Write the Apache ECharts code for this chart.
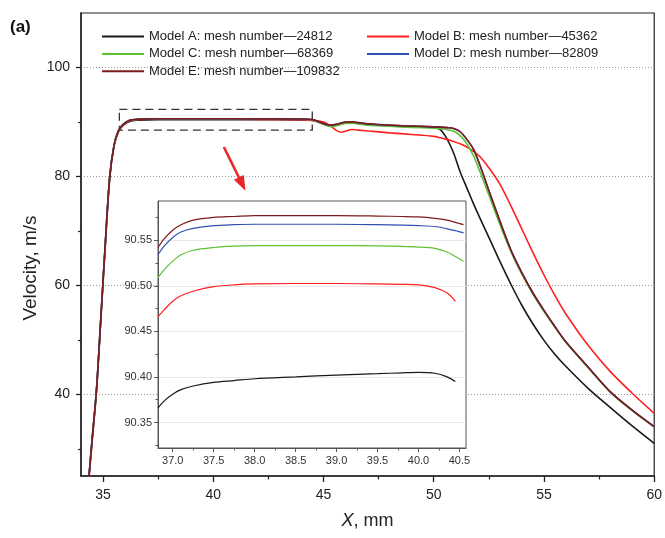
<!DOCTYPE html>
<html><head><meta charset="utf-8">
<script src="https://cdn.jsdelivr.net/npm/echarts@6/dist/echarts.min.js"></script>
<style>html,body{margin:0;padding:0;background:#fff}#c{width:665px;height:538px}</style>
</head><body><div id="c"></div>
<script>
// ---------- data ----------
const seriesNames = [
  'Model A: mesh number\u201424812',
  'Model B: mesh number\u201445362',
  'Model C: mesh number\u201468369',
  'Model D: mesh number\u201482809',
  'Model E: mesh number\u2014109832'
];
const seriesColors = ['#1a1a1a', '#ff1f1f', '#5cc133', '#2f4fb3', '#7e1c1c'];

const mainX = [34.3, 34.5, 34.7, 34.9, 35.1, 35.3, 35.5, 35.7, 35.9, 36.2, 36.6, 37, 38, 40, 42, 44,
  44.5, 45, 45.3, 45.6, 45.8, 46, 46.3, 46.6, 47, 48, 49,
  50, 50.3, 50.6, 50.9, 51.2, 51.5, 51.8, 52.1, 52.5, 53, 53.5, 54, 54.5, 55, 55.5, 56, 57, 58, 59, 60];

const mainA = [22, 31.5, 40.7, 54, 67.5, 79.8, 85.6, 88.2, 89.3, 90.1, 90.32, 90.38, 90.398, 90.405, 90.40, 90.38,
  90.3, 89.6, 89.35, 89.5, 89.7, 89.85, 89.9, 89.75, 89.55, 89.3, 89.15,
  89.0, 88.6, 86.9, 84.3, 80.8, 77.9, 75.0, 72.3, 68.8, 64.4, 60.2, 56.3, 52.9, 49.9, 47.3, 45.1, 41.1, 37.6, 34.2, 31.0];
const mainB = [21.5, 31, 40.3, 53.6, 67.1, 79.4, 85.6, 88.3, 89.45, 90.2, 90.42, 90.483, 90.502, 90.501, 90.48, 90.42,
  90.25, 90.0, 89.3, 88.4, 88.1, 88.3, 88.6, 88.5, 88.35, 88.0, 87.7,
  87.35, 87.1, 86.8, 86.4, 86.0, 85.4, 84.6, 83.6, 81.6, 78.6, 74.6, 70.3, 66.0, 61.9, 58.1, 54.7, 49.0, 44.2, 40.2, 36.5];
const mainC = [22, 31.5, 40.7, 54, 67.5, 79.8, 85.8, 88.4, 89.5, 90.28, 90.48, 90.527, 90.544, 90.5425, 90.54, 90.5,
  90.35, 89.6, 89.15, 89.3, 89.55, 89.7, 89.75, 89.6, 89.4, 89.2, 89.0,
  88.85, 88.75, 88.6, 88.3, 87.5, 86.0, 83.8, 80.8, 76.6, 71.2, 66.2, 62.0, 58.4, 55.2, 52.3, 49.5, 44.9, 40.4, 37.0, 34.0];
const mainD = [22, 31.5, 40.7, 54, 67.5, 79.8, 85.8, 88.4, 89.5, 90.3, 90.5, 90.553, 90.5675, 90.566, 90.56, 90.53,
  90.42, 89.7, 89.4, 89.55, 89.8, 89.95, 90.0, 89.85, 89.65, 89.4, 89.25,
  89.1, 89.05, 88.95, 88.8, 88.2, 86.8, 85.0, 82.0, 77.4, 71.8, 66.5, 62.3, 58.6, 55.4, 52.4, 49.6, 45.0, 40.5, 37.1, 34.05];
const mainE = [22, 31.5, 40.7, 54, 67.5, 79.8, 85.8, 88.4, 89.5, 90.31, 90.51, 90.561, 90.577, 90.5755, 90.57, 90.54,
  90.45, 89.72, 89.42, 89.56, 89.8, 89.96, 90.02, 89.87, 89.66, 89.41, 89.26,
  89.1, 89.05, 88.95, 88.8, 88.2, 86.8, 85.0, 82.0, 77.4, 71.8, 66.5, 62.3, 58.6, 55.4, 52.4, 49.6, 45.0, 40.5, 37.1, 34.05];

const insetX = [36.82, 36.9, 37.0, 37.1, 37.25, 37.5, 37.75, 38.0, 38.5, 39.0, 39.5, 39.8, 40.0, 40.2, 40.35, 40.45, 40.55];
const insetA = [90.366, 90.374, 90.381, 90.386, 90.390, 90.394, 90.396, 90.398, 90.400, 90.402, 90.4035, 90.4045, 90.405, 90.404, 90.400, 90.395, null];
const insetB = [90.466, 90.474, 90.483, 90.489, 90.494, 90.499, 90.501, 90.502, 90.5025, 90.5025, 90.502, 90.5015, 90.501, 90.498, 90.492, 90.483, null];
const insetC = [90.509, 90.518, 90.527, 90.534, 90.539, 90.542, 90.5435, 90.544, 90.544, 90.544, 90.5438, 90.5432, 90.5425, 90.541, 90.537, 90.532, 90.527];
const insetD = [90.534, 90.544, 90.553, 90.559, 90.563, 90.566, 90.567, 90.5675, 90.5675, 90.5675, 90.567, 90.5665, 90.566, 90.565, 90.5625, 90.5605, 90.558];
const insetE = [90.542, 90.552, 90.561, 90.567, 90.572, 90.575, 90.576, 90.577, 90.577, 90.577, 90.5765, 90.576, 90.5755, 90.574, 90.572, 90.5695, 90.567];

const mainXLabels = [35, 40, 45, 50, 55, 60];
const mainXMinor = [37.5, 42.5, 47.5, 52.5, 57.5];
const mainYLabels = [40, 60, 80, 100];
const mainYMinor = [30, 50, 70, 90];
const insetXLabels = [37.0, 37.5, 38.0, 38.5, 39.0, 39.5, 40.0, 40.5];
const insetXMinor = [37.25, 37.75, 38.25, 38.75, 39.25, 39.75, 40.25];
const insetYLabels = [90.35, 90.40, 90.45, 90.50, 90.55];
const insetYMinor = [90.325, 90.375, 90.425, 90.475, 90.525, 90.575];

const zoomBox = [[35.74, 92.3], [44.49, 88.5]];
const arrowLine = [[40.48, 85.4], [41.31, 78.6]];

// ---------- chart ----------
const FONT = '"Liberation Sans", Arial, Helvetica, sans-serif';
const pair = (xs, ys) => xs.map((x, i) => [x, ys[i]]).filter(p => p[1] != null);
const mainY = [mainA, mainB, mainC, mainD, mainE];
const insetY = [insetA, insetB, insetC, insetD, insetE];

const series = [];
seriesNames.forEach((n, i) => {
  const s = {
    name: n, type: 'line', xAxisIndex: 0, yAxisIndex: 0,
    data: pair(mainX, mainY[i]), symbol: 'none', showSymbol: false,
    smooth: 0.3, clip: true, z: 2 + i,
    lineStyle: { width: 1.6, color: seriesColors[i] },
    itemStyle: { color: seriesColors[i] },
    emphasis: { disabled: true }
  };
  if (i === 0) {
    s.markArea = {
      silent: true,
      itemStyle: { color: 'rgba(0,0,0,0)', borderColor: '#333', borderWidth: 1.3, borderType: [8, 5] },
      data: [[{ coord: zoomBox[0] }, { coord: zoomBox[1] }]]
    };
  }
  if (i === 4) {
    s.markLine = {
      silent: true, animation: false,
      symbol: ['none', 'triangle'], symbolSize: [11, 15],
      lineStyle: { color: '#e8262b', width: 2.6, type: 'solid' },
      label: { show: false },
      data: [[{ coord: arrowLine[0] }, { coord: arrowLine[1] }]]
    };
  }
  series.push(s);
});
seriesNames.forEach((n, i) => {
  series.push({
    name: n, type: 'line', xAxisIndex: 2, yAxisIndex: 2,
    data: pair(insetX, insetY[i]), symbol: 'none', showSymbol: false,
    smooth: 0.3, z: 10 + i,
    lineStyle: { width: 1.2, color: seriesColors[i] },
    itemStyle: { color: seriesColors[i] },
    emphasis: { disabled: true }
  });
});

const axisCommon = { axisLine: { show: false }, axisLabel: { show: false }, splitLine: { show: false } };
const legendCommon = {
  orient: 'vertical', top: 25, itemWidth: 42, itemHeight: 14, itemGap: 4.4, selectedMode: false,
  textStyle: { fontFamily: FONT, fontSize: 13, color: '#222' },
  lineStyle: { width: 2 },
  itemStyle: { opacity: 0, borderWidth: 0 }
};

const option = {
  animation: false,
  textStyle: { fontFamily: FONT },
  title: { text: '(a)', left: 5, top: 14, textStyle: { fontFamily: FONT, fontSize: 17, fontWeight: 'bold', color: '#111' } },
  legend: [
    Object.assign({ data: [seriesNames[0], seriesNames[2], seriesNames[4]], left: 96 }, legendCommon),
    Object.assign({ data: [seriesNames[1], seriesNames[3]], left: 361 }, legendCommon)
  ],
  graphic: [{
    type: 'text', x: 31, y: 268, rotation: Math.PI / 2,
    style: { text: 'Velocity, m/s', font: '19px ' + FONT, fill: '#222', align: 'center', verticalAlign: 'middle' }
  }],
  grid: [
    { left: 81, right: 7, top: 13, bottom: 62, show: true, borderColor: '#222', borderWidth: 1.2, backgroundColor: 'rgba(0,0,0,0)' },
    { left: 158, right: 199, top: 201, bottom: 90, show: true, borderColor: '#555', borderWidth: 1, backgroundColor: '#fff', z: 3 }
  ],
  xAxis: [
    { type: 'value', gridIndex: 0, min: 34, max: 60, position: 'bottom',
      name: '{i|X}, mm', nameLocation: 'middle', nameGap: 36,
      nameTextStyle: { fontSize: 18, color: '#222', rich: { i: { fontStyle: 'italic', fontSize: 18, color: '#222', fontFamily: FONT } } },
      axisLine: { lineStyle: { color: '#222', width: 1.5 } },
      axisTick: { customValues: mainXLabels, length: 6, lineStyle: { color: '#222', width: 1.3 } },
      axisLabel: { customValues: mainXLabels, fontSize: 14, color: '#222', margin: 12 },
      splitLine: { show: false } },
    Object.assign({ type: 'value', gridIndex: 0, min: 34, max: 60, position: 'bottom',
      axisTick: { customValues: mainXMinor, length: 3.5, lineStyle: { color: '#222', width: 1.2 } } }, axisCommon),
    { type: 'value', gridIndex: 1, min: 36.82, max: 40.58, position: 'bottom', z: 4,
      axisLine: { lineStyle: { color: '#555', width: 1 } },
      axisTick: { customValues: insetXLabels, length: 4, lineStyle: { color: '#555' } },
      axisLabel: { customValues: insetXLabels, fontSize: 11, color: '#333', margin: 7, formatter: v => v.toFixed(1) },
      splitLine: { show: false } },
    Object.assign({ type: 'value', gridIndex: 1, min: 36.82, max: 40.58, position: 'bottom', z: 4,
      axisTick: { customValues: insetXMinor, length: 2.5, lineStyle: { color: '#555' } } }, axisCommon)
  ],
  yAxis: [
    { type: 'value', gridIndex: 0, min: 25, max: 110, position: 'left',
      axisLine: { lineStyle: { color: '#222', width: 1.5 } },
      axisTick: { customValues: mainYLabels, length: 5, lineStyle: { color: '#222', width: 1.3 } },
      axisLabel: { customValues: mainYLabels, fontSize: 14, color: '#222', margin: 11 },
      splitLine: { show: true, lineStyle: { color: '#999', width: 1, type: [1, 2] } } },
    Object.assign({ type: 'value', gridIndex: 0, min: 25, max: 110, position: 'left',
      axisTick: { customValues: mainYMinor, length: 3, lineStyle: { color: '#222', width: 1.2 } } }, axisCommon),
    { type: 'value', gridIndex: 1, min: 90.322, max: 90.593, position: 'left', z: 4,
      axisLine: { lineStyle: { color: '#555', width: 1 } },
      axisTick: { customValues: insetYLabels, length: 4, lineStyle: { color: '#555' } },
      axisLabel: { customValues: insetYLabels, fontSize: 11, color: '#333', margin: 6, formatter: v => v.toFixed(2) },
      splitLine: { show: true, lineStyle: { color: '#e8e8e8', width: 1 } } },
    Object.assign({ type: 'value', gridIndex: 1, min: 90.322, max: 90.593, position: 'left', z: 4,
      axisTick: { customValues: insetYMinor, length: 2.5, lineStyle: { color: '#555' } } }, axisCommon)
  ],
  series: series
};
const chart = echarts.init(document.getElementById('c'));
chart.setOption(option);
</script>
</body></html>
